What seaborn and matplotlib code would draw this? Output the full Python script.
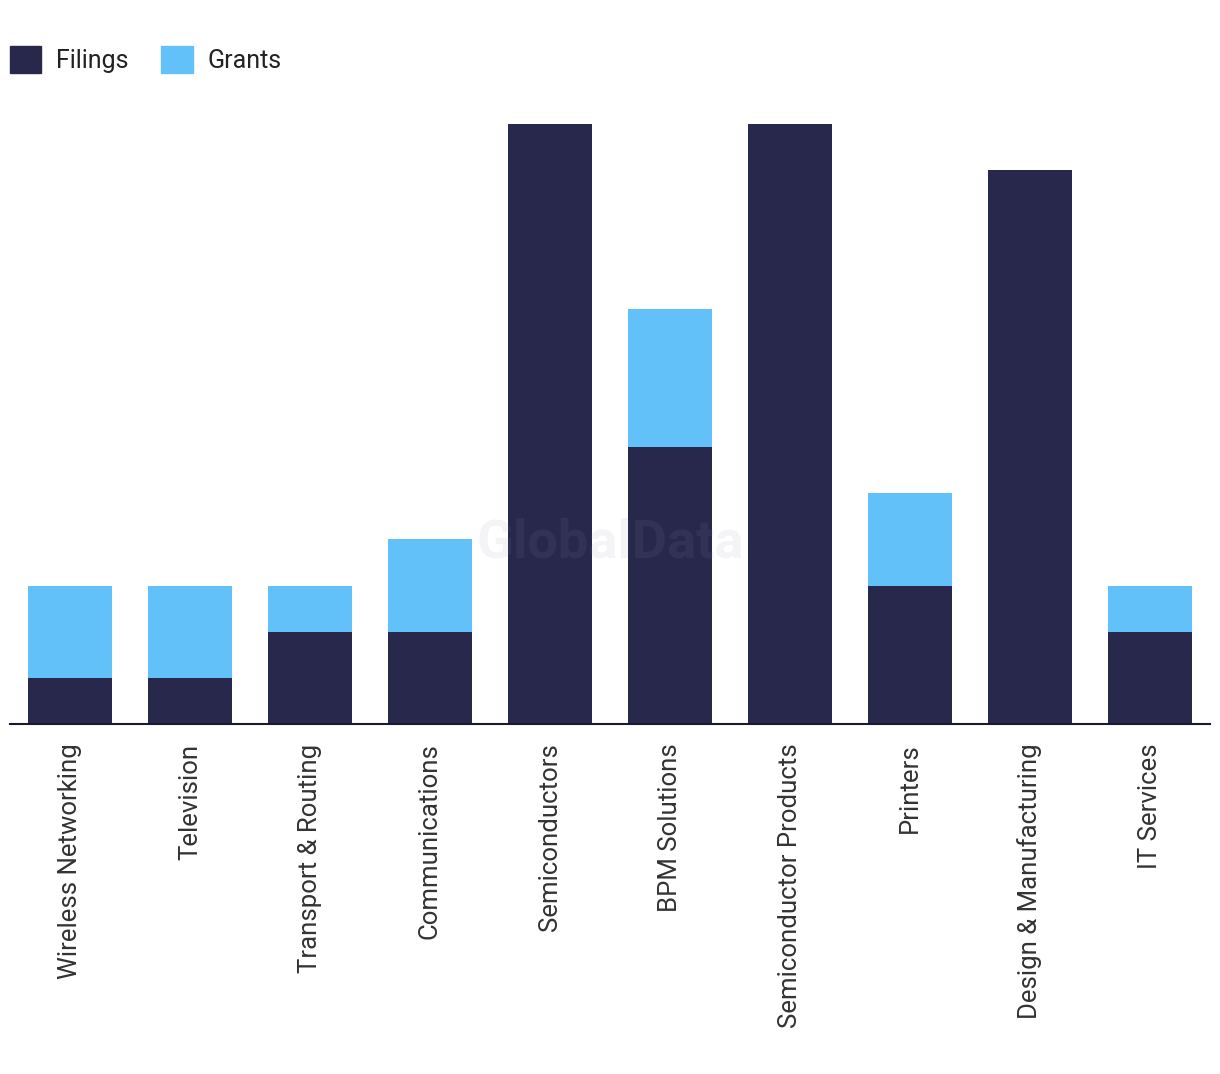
import numpy as np
import pandas as pd
import matplotlib.pyplot as plt
import seaborn as sns
from matplotlib.patches import Patch

categories = ['Wireless Networking', 'Television', 'Transport & Routing', 'Communications',
              'Semiconductors', 'BPM Solutions', 'Semiconductor Products', 'Printers',
              'Design & Manufacturing', 'IT Services']
filings = [1, 1, 2, 2, 13, 6, 13, 3, 12, 2]
grants = [2, 2, 1, 2, 0, 3, 0, 2, 0, 1]

dark = '#27284b'
light = '#62c1f8'

df = pd.DataFrame({'category': categories, 'Filings': filings, 'Grants': grants})
df['total'] = df['Filings'] + df['Grants']

sns.set_style('white')
plt.rcParams['font.family'] = ['Roboto', 'DejaVu Sans']

fig = plt.figure(figsize=(12.2, 10.74), dpi=100)
ax = fig.add_axes([10/1220, 350/1074, 1200/1220, 600/1074])

# stacked: draw totals in light blue, then filings over them
sns.barplot(data=df, x='category', y='total', color=light, width=0.7,
            saturation=1, ax=ax, linewidth=0)
sns.barplot(data=df, x='category', y='Filings', color=dark, width=0.7,
            saturation=1, ax=ax, linewidth=0)

ax.set_xlim(-0.5, 9.5)
ax.set_ylim(0, 13)
ax.set_xlabel('')
ax.set_ylabel('')
ax.set_yticks([])
for s in ['top', 'right', 'left']:
    ax.spines[s].set_visible(False)
ax.spines['bottom'].set_color('#1a1a2e')
ax.spines['bottom'].set_linewidth(1.5)
ax.tick_params(axis='x', length=0, pad=14, labelsize=18.5, labelcolor='#333333')
plt.setp(ax.get_xticklabels(), rotation=90, va='top', ha='center')

handles = [Patch(color=dark, label='Filings'), Patch(color=light, label='Grants')]
fig.legend(handles=handles, loc='upper left', bbox_to_anchor=(10/1220, 0.957), ncol=2,
           frameon=False, fontsize=18, handlelength=1.25, handleheight=1.25,
           columnspacing=1.3, handletextpad=0.6, borderpad=0, borderaxespad=0,
           labelcolor='#222222')

fig.text(0.5, 0.494, 'GlobalData', ha='center', va='center', fontsize=39,
         fontweight='bold', color='#9999aa', alpha=0.1, zorder=10)

fig.savefig('out.png', dpi=100)
